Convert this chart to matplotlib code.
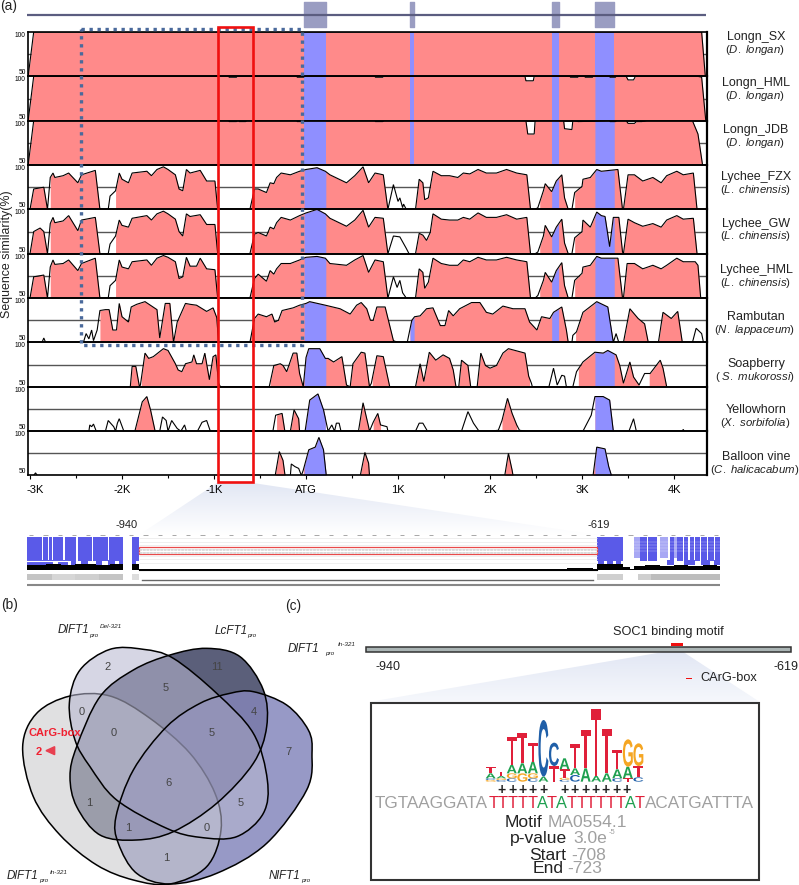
import numpy as np
import matplotlib
matplotlib.use("Agg")
import matplotlib.pyplot as plt
from matplotlib.patches import PathPatch, Polygon, Rectangle
from matplotlib.path import Path
from matplotlib.textpath import TextPath
from matplotlib.font_manager import FontProperties
from matplotlib.transforms import Affine2D, ScaledTranslation

plt.rcParams['font.family'] = ['Liberation Sans', 'DejaVu Sans']
plt.rcParams['mathtext.fontset'] = 'custom'
plt.rcParams['mathtext.it'] = 'Liberation Sans:italic'
plt.rcParams['mathtext.rm'] = 'Liberation Sans'

# ---- panel (a) data: (position in bp from ATG, similarity %) ----
track_names = ['Longn_SX', 'Longn_HML', 'Longn_JDB', 'Lychee_FZX', 'Lychee_GW', 'Lychee_HML',
               'Rambutan', 'Soapberry', 'Yellowhorn', 'Balloon vine']
track_species = ['D. longan', 'D. longan', 'D. longan', 'L. chinensis', 'L. chinensis', 'L. chinensis',
                 'N. lappaceum', ' S. mukorossi', 'X. sorbifolia', 'C. halicacabum']
exons = [(-20, 215), (1130, 1175), (2670, 2745), (3140, 3350)]
x_ticks = [-3000, -2000, -1000, 0, 1000, 2000, 3000, 4000]
x_tick_labels = ['-3K', '-2K', '-1K', 'ATG', '1K', '2K', '3K', '4K']

longan_sx = [(-3020, 50), (-2960, 100), (4300, 100), (4340, 50)]
longan_hml = [(-3020, 50), (-2960, 100), (-840, 100), (-835, 99), (-755, 99), (-750, 100), (-100, 100), (-95, 99),
              (-25, 99), (-20, 100), (750, 100), (755, 99), (835, 99), (840, 100), (2380, 100), (2390, 95), (2470, 95),
              (2480, 100), (2870, 100), (2875, 99), (2955, 99), (2960, 100), (3030, 100), (3035, 99), (3115, 99),
              (3120, 100), (3300, 100), (3305, 99), (3365, 99), (3370, 100), (3480, 100), (3500, 96), (3560, 96),
              (3580, 100), (4260, 100), (4300, 99), (4345, 50)]
longan_jdb = [(-3020, 50), (-2960, 100), (-840, 100), (-835, 99), (-755, 99), (-750, 100), (-730, 100), (-725, 99),
              (-655, 99), (-650, 100), (-100, 100), (-95, 99), (-25, 99), (-20, 100), (750, 100), (755, 99), (835, 99),
              (840, 100), (2390, 100), (2410, 85), (2480, 85), (2490, 100), (2800, 100), (2810, 91), (2890, 90),
              (2900, 100), (2960, 99), (3300, 100), (3305, 99), (3365, 99), (3370, 100), (3480, 100), (3500, 97),
              (3570, 97), (3590, 99), (3650, 99), (3700, 100), (4200, 100), (4260, 85), (4310, 50)]
lychee_fzx = [(-3000, 50), (-2960, 73), (-2850, 75), (-2810, 50), (-2780, 86), (-2750, 91), (-2730, 86), (-2640, 88),
              (-2580, 91), (-2480, 80), (-2440, 89), (-2290, 94), (-2240, 50), (-2150, 50), (-2130, 65), (-2070, 71),
              (-2030, 91), (-2000, 84), (-1930, 80), (-1890, 91), (-1730, 93), (-1680, 88), (-1620, 95), (-1550, 98),
              (-1500, 95), (-1420, 89), (-1380, 73), (-1340, 71), (-1300, 95), (-1260, 91), (-1150, 94), (-1080, 82),
              (-990, 82), (-960, 50), (-610, 50), (-560, 73), (-520, 73), (-430, 69), (-390, 80), (-350, 79), (-320, 86),
              (-270, 91), (-170, 89), (-70, 93), (0, 95), (120, 97), (210, 93), (260, 89), (440, 80), (530, 88),
              (620, 98), (680, 80), (750, 91), (840, 89), (890, 50), (950, 78), (1000, 59), (1020, 63), (1050, 52),
              (1060, 56), (1090, 50), (1190, 50), (1230, 84), (1270, 80), (1290, 61), (1330, 63), (1380, 93), (1470, 88),
              (1560, 88), (1650, 86), (1710, 91), (1780, 90), (1870, 95), (1960, 91), (2070, 91), (2180, 95), (2290, 91),
              (2400, 89), (2440, 50), (2490, 50), (2520, 52), (2580, 71), (2600, 79), (2670, 70), (2720, 82), (2780, 89),
              (2810, 63), (2850, 50), (2890, 50), (2920, 69), (3000, 76), (3010, 84), (3090, 86), (3160, 95), (3210, 93),
              (3390, 95), (3440, 50), (3450, 50), (3500, 89), (3570, 89), (3660, 82), (3770, 86), (3860, 80), (3920, 88),
              (4030, 93), (4100, 89), (4210, 91), (4250, 50)]
lychee_gw = [(-3000, 50), (-2960, 75), (-2890, 79), (-2850, 75), (-2810, 50), (-2780, 84), (-2750, 91), (-2730, 85),
             (-2640, 87), (-2580, 93), (-2480, 76), (-2440, 88), (-2290, 91), (-2240, 50), (-2150, 50), (-2130, 61),
             (-2070, 70), (-2030, 88), (-2000, 82), (-1930, 80), (-1890, 90), (-1730, 93), (-1680, 88), (-1620, 95),
             (-1550, 98), (-1500, 95), (-1420, 89), (-1380, 75), (-1340, 70), (-1300, 95), (-1260, 92), (-1150, 94),
             (-1080, 83), (-990, 83), (-960, 50), (-610, 50), (-560, 72), (-520, 74), (-430, 70), (-390, 80), (-350, 78),
             (-320, 85), (-270, 91), (-170, 88), (-70, 93), (0, 96), (120, 100), (210, 95), (260, 90), (440, 81),
             (530, 88), (620, 99), (680, 80), (750, 91), (840, 90), (890, 50), (950, 70), (1020, 69), (1090, 56),
             (1120, 50), (1190, 50), (1230, 73), (1270, 71), (1310, 65), (1350, 74), (1380, 95), (1470, 89), (1560, 88),
             (1650, 88), (1710, 91), (1780, 89), (1870, 96), (1960, 91), (2070, 91), (2180, 94), (2290, 89), (2400, 91),
             (2440, 50), (2490, 50), (2520, 52), (2580, 70), (2600, 82), (2670, 69), (2720, 80), (2780, 89), (2810, 62),
             (2850, 50), (2890, 50), (2920, 68), (3000, 75), (3010, 88), (3090, 80), (3160, 97), (3210, 93), (3250, 92),
             (3300, 58), (3340, 91), (3400, 91), (3440, 52), (3450, 50), (3500, 89), (3570, 85), (3660, 81), (3770, 84),
             (3860, 80), (3920, 88), (4030, 93), (4100, 89), (4210, 90), (4250, 50)]
lychee_hml = [(-3000, 50), (-2960, 74), (-2850, 76), (-2810, 50), (-2780, 85), (-2750, 93), (-2730, 88), (-2640, 89),
              (-2580, 93), (-2480, 81), (-2440, 89), (-2290, 95), (-2240, 50), (-2150, 50), (-2130, 64), (-2070, 70),
              (-2030, 93), (-2000, 85), (-1930, 83), (-1890, 91), (-1730, 93), (-1680, 87), (-1620, 95), (-1550, 98),
              (-1500, 96), (-1420, 91), (-1380, 72), (-1340, 74), (-1300, 96), (-1260, 86), (-1190, 86), (-1150, 95),
              (-1080, 83), (-990, 82), (-960, 50), (-610, 50), (-560, 72), (-520, 77), (-430, 69), (-390, 81), (-350, 77),
              (-320, 83), (-270, 89), (-170, 89), (-70, 93), (0, 96), (120, 97), (210, 95), (260, 89), (440, 87),
              (530, 93), (620, 98), (680, 79), (750, 93), (840, 91), (890, 50), (950, 74), (990, 62), (1020, 70),
              (1050, 56), (1090, 50), (1190, 50), (1230, 83), (1270, 79), (1290, 61), (1330, 68), (1380, 95), (1470, 89),
              (1560, 87), (1650, 87), (1710, 93), (1780, 91), (1870, 96), (1960, 93), (2070, 93), (2180, 96), (2290, 93),
              (2400, 91), (2440, 50), (2490, 50), (2520, 53), (2580, 70), (2600, 79), (2670, 68), (2720, 81), (2780, 90),
              (2810, 64), (2850, 50), (2890, 50), (2920, 70), (3000, 78), (3010, 85), (3090, 87), (3160, 97), (3210, 95),
              (3390, 95), (3440, 50), (3450, 50), (3490, 89), (3570, 89), (3660, 83), (3770, 87), (3860, 83), (3920, 87),
              (4030, 95), (4100, 91), (4230, 91), (4260, 87), (4290, 50)]
rambutan = [(-2870, 50), (-2850, 55), (-2830, 50), (-2420, 50), (-2390, 60), (-2360, 54), (-2330, 64), (-2310, 52),
            (-2270, 64), (-2240, 86), (-2180, 87), (-2140, 87), (-2100, 64), (-2060, 64), (-2030, 94), (-2000, 79),
            (-1930, 73), (-1900, 90), (-1840, 93), (-1750, 96), (-1620, 87), (-1590, 55), (-1530, 94), (-1480, 94),
            (-1440, 50), (-1400, 73), (-1310, 94), (-1260, 93), (-1190, 92), (-1080, 85), (-1010, 89), (-970, 78),
            (-950, 50), (-610, 50), (-560, 77), (-520, 82), (-430, 79), (-370, 82), (-340, 73), (-300, 75), (-260, 86),
            (-140, 89), (-70, 92), (0, 94), (40, 96), (210, 92), (370, 88), (480, 82), (550, 92), (600, 95), (660, 88),
            (700, 75), (730, 75), (770, 90), (860, 90), (950, 52), (1000, 50), (1100, 50), (1150, 75), (1180, 79),
            (1240, 80), (1310, 88), (1380, 89), (1460, 69), (1510, 69), (1550, 86), (1600, 80), (1670, 88), (1800, 95),
            (1890, 95), (1960, 84), (2030, 82), (2140, 91), (2250, 88), (2380, 88), (2430, 73), (2510, 64), (2560, 79),
            (2650, 77), (2690, 84), (2780, 90), (2830, 64), (2850, 50), (2890, 50), (2900, 58), (2940, 62), (3010, 84),
            (3160, 96), (3280, 90), (3340, 50), (3370, 60), (3400, 50), (3450, 50), (3520, 88), (3610, 77), (3680, 71),
            (3720, 50), (3830, 50), (3880, 84), (3970, 77), (4040, 85), (4090, 50), (4200, 50), (4240, 66), (4300, 60),
            (4320, 50)]
soapberry = [(-1910, 50), (-1890, 73), (-1850, 73), (-1810, 50), (-1800, 52), (-1750, 88), (-1710, 82), (-1660, 84),
             (-1550, 93), (-1500, 91), (-1420, 76), (-1390, 69), (-1350, 67), (-1310, 76), (-1240, 78), (-1220, 86),
             (-1190, 76), (-1130, 76), (-1100, 88), (-1050, 58), (-1010, 84), (-980, 86), (-950, 54), (-930, 50),
             (-400, 50), (-350, 74), (-280, 76), (-250, 74), (-210, 67), (-140, 88), (-100, 88), (-70, 65), (-30, 50),
             (0, 83), (30, 93), (150, 93), (210, 82), (240, 82), (300, 78), (390, 84), (440, 52), (480, 50), (510, 76),
             (600, 89), (640, 88), (690, 50), (710, 54), (770, 85), (840, 84), (910, 50), (1190, 50), (1240, 76),
             (1280, 56), (1340, 89), (1410, 80), (1490, 86), (1560, 82), (1600, 69), (1630, 50), (1660, 50), (1690, 80),
             (1760, 74), (1790, 50), (1860, 50), (1900, 88), (1950, 74), (2000, 71), (2070, 74), (2140, 88), (2200, 93),
             (2380, 88), (2420, 62), (2450, 54), (2460, 50), (2640, 50), (2690, 71), (2730, 52), (2780, 63), (2810, 62),
             (2830, 50), (2900, 50), (2940, 67), (3010, 78), (3140, 89), (3230, 88), (3280, 91), (3370, 86), (3410, 74),
             (3450, 54), (3520, 78), (3560, 61), (3620, 52), (3680, 65), (3740, 65), (3850, 80), (3880, 71), (3920, 50)]
yellowhorn = [(-2360, 50), (-2350, 57), (-2330, 55), (-2310, 58), (-2280, 50), (-2180, 50), (-2150, 62), (-2090, 55),
              (-2070, 50), (-2050, 59), (-2030, 64), (-1980, 50), (-1860, 50), (-1780, 83), (-1730, 89), (-1690, 74),
              (-1640, 50), (-1590, 50), (-1560, 66), (-1520, 62), (-1500, 50), (-1460, 62), (-1400, 53), (-1360, 50),
              (-1320, 57), (-1300, 50), (-1180, 50), (-1130, 60), (-1080, 62), (-1040, 50), (-360, 50), (-330, 68),
              (-260, 70), (-230, 50), (-170, 50), (-130, 74), (-80, 64), (-70, 50), (-10, 50), (40, 85), (130, 92),
              (190, 74), (240, 50), (280, 57), (310, 50), (330, 59), (360, 59), (380, 50), (570, 50), (620, 82),
              (680, 55), (690, 50), (730, 60), (780, 70), (810, 57), (880, 55), (890, 50), (1190, 50), (1230, 59),
              (1270, 59), (1320, 50), (1690, 50), (1760, 72), (1820, 59), (1880, 50), (2000, 50), (2090, 51), (2130, 62),
              (2190, 87), (2240, 70), (2290, 57), (2320, 51), (2390, 50), (3010, 50), (3100, 68), (3140, 89), (3230, 89),
              (3300, 85), (3340, 50), (3510, 50), (3560, 64), (3590, 50), (4090, 50), (4100, 52), (4110, 50)]
balloon = [(-2960, 50), (-2940, 53), (-2920, 50), (-335, 50), (-290, 77), (-250, 67), (-228, 50), (-170, 50), (-160, 63),
           (-120, 60), (-80, 58), (-50, 50), (-30, 56), (30, 79), (100, 82), (140, 93), (190, 79), (220, 50), (590, 50),
           (640, 76), (680, 64), (690, 50), (2160, 50), (2200, 75), (2240, 56), (2250, 50), (3120, 50), (3160, 82),
           (3250, 80), (3290, 60), (3320, 50)]
track_traces = [longan_sx, longan_hml, longan_jdb, lychee_fzx, lychee_gw, lychee_hml, rambutan, soapberry, yellowhorn, balloon]

# conserved regions that get filled
fill_sx = [(-3020, 4340)]
fill_fzx = [(-3000, -2810), (-2780, -2240), (-2070, -960), (-610, 890), (1190, 2440), (2540, 2850), (2920, 3440), (3450, 4250)]
fill_gw = [(-3000, -2810), (-2780, -2240), (-2070, -960), (-610, 890), (1190, 2440), (2540, 2850), (2920, 3440), (3450, 4250)]
fill_hml = [(-3000, -2810), (-2780, -2240), (-2070, -960), (-610, 890), (1190, 2440), (2540, 2850), (2920, 3440), (3450, 4290)]
fill_rambutan = [(-2240, -950), (-610, 950), (1130, 2850), (2930, 3340), (3450, 3720), (3830, 4090)]
fill_soapberry = [(-1910, -1810), (-1790, -930), (-390, -30), (-30, 440), (480, 690), (720, 910), (1190, 1630), (1660, 1790),
                  (1860, 2430), (2960, 3620), (3730, 3920)]
fill_yellowhorn = [(-1860, -1640), (-320, -230), (-170, -70), (-10, 210), (580, 680), (730, 810), (2130, 2290), (3140, 3340)]
fill_balloon = [(-335, -228), (-30, 220), (590, 690), (2160, 2250), (3120, 3320)]
track_fills = [fill_sx, fill_sx, fill_sx, fill_fzx, fill_gw, fill_hml, fill_rambutan, fill_soapberry, fill_yellowhorn, fill_balloon]

# ---- alignment strip under panel (a), bp ----
strip_blue = [(-1019, -1008), (-1007, -1004), (-1003, -1001), (-1000, -993), (-992, -984), (-983, -973), (-972, -962),
              (-961, -951), (-945, -940), (-619, -601), (-589, -584), (-583, -577), (-568, -565), (-563, -559),
              (-558, -555), (-554, -551), (-550, -547), (-546, -542), (-541, -537), (-536, -533)]
strip_pale = [(-593, -589), (-575, -569), (-565, -563)]
strip_low = [(-1019, -1000), (-997, -990), (-988, -984), (-981, -976), (-970, -966), (-962, -957), (-954, -951),
             (-945, -942), (-618, -614), (-612, -608), (-606, -602), (-570, -565), (-558, -550), (-546, -540), (-537, -533)]
cover_x = [-1019, -1005, -995, -985, -970, -960, -951, -945, -940, -640, -622, -619, -601, -596, -593, -585, -575, -565,
           -555, -545, -535, -533]
cover_h = [5, 6, 5, 6, 5, 6, 0, 6, 1, 2, 1, 6, 3, 1, 4, 5, 4, 5, 4, 5, 4, 4]
band_x = [-1019, -1001, -985, -968, -951, -945, -940, -619, -601, -596, -590, -581, -533]
band_gray = ['#c4c4c4', '#d6d6d6', '#cfcfcf', '#c4c4c4', '#ffffff', '#dddddd', '#ffffff', '#cfcfcf', '#ffffff', '#ffffff', '#cfcfcf', '#bdbdbd']

# ---- panel (b) counts ----
venn_counts = [2, 11, 5, 0, 4, 0, 5, 7, 6, 1, 5, 1, 0, 1]
venn_count_xy = [(323, 230), (650, 230), (498, 295), (245, 365), (760, 365), (342, 430), (635, 430), (865, 485),
                 (505, 578), (267, 638), (722, 638), (385, 713), (620, 713), (500, 805)]

# ---- panel (c) motif ----
seq_left = 'TGTAAGGATA'
seq_mid = 'TTTTTATATTTTTTAT'
seq_right = 'ACATGATTTA'
logo_cols = [[('G', .05), ('C', .05), ('A', .15), ('T', .18)],
             [('C', .05), ('G', .05), ('A', .07), ('T', .13)],
             [('C', .1), ('G', .15), ('A', .25), ('T', .85)],
             [('G', .25), ('A', .3), ('T', .92)],
             [('C', .1), ('G', .15), ('A', .35), ('T', .57)],
             [('A', .15), ('C', 1.7)],
             [('T', .47), ('C', .7)],
             [('C', .06), ('G', .06), ('T', .25), ('A', .33)],
             [('C', .2), ('A', .2), ('T', .73)],
             [('A', .4), ('T', 1.15)],
             [('A', .17), ('T', 2.0)],
             [('A', .25), ('T', 1.32)],
             [('C', .1), ('A', .27), ('T', .58)],
             [('T', .1), ('A', .35), ('G', .82)],
             [('C', .13), ('T', .34), ('G', .68)]]
logo_colors = {'A': '#1fa050', 'C': '#1f5fa8', 'G': '#f5a623', 'T': '#e0203a'}

W, H = 799, 885
PINK = '#ff8a8a'
BLUE = '#8f8fff'
fig = plt.figure(figsize=(W / 100, H / 100), dpi=100)


def px_axes(x0, y0, x1, y1, **kw):
    return fig.add_axes([x0 / W, 1 - y1 / H, (x1 - x0) / W, (y1 - y0) / H], **kw)


# wedge behind the tick labels
grad = np.linspace(0, 1, 64).reshape(-1, 1)
under = px_axes(0, 0, W, H)
under.set_zorder(-1)
under.axis('off')
wedge_cmap = matplotlib.colors.LinearSegmentedColormap.from_list('w', ['#e2e7f4', '#ffffff'])
im = under.imshow(grad, extent=(139, 597, 535, 483), cmap=wedge_cmap, aspect='auto')
im.set_clip_path(Polygon([(217, 483), (253, 483), (597, 535), (139, 535)], transform=under.transData))
under.set_xlim(0, W)
under.set_ylim(H, 0)

# gene model on top
x_lim = (-3025, 4355)
ax_gene = px_axes(27.7, 0, 706.7, 30)
ax_gene.set_xlim(x_lim)
ax_gene.set_ylim(30, 0)
ax_gene.axis('off')
ax_gene.plot([-3030, 4345], [15, 15], color='#5b5d80', lw=1.6, solid_capstyle='butt', clip_on=False)
ax_gene.broken_barh([(a, b - a) for a, b in exons], (2, 25), color='#9a9dc2')

# similarity tracks
gs = fig.add_gridspec(10, 1, left=27.7 / W, right=706.7 / W, top=1 - 32 / H, bottom=1 - 475.5 / H, hspace=0)
axes = []
for i, name in enumerate(track_names):
    ax = fig.add_subplot(gs[i])
    axes.append(ax)
    xs, ys = np.array(track_traces[i], dtype=float).T
    ax.axhline(75, color='#555555', lw=1.0, zorder=0)
    for a, b in track_fills[i]:
        gx = np.unique(np.r_[a, b, xs[(xs > a) & (xs < b)]])
        gy = np.interp(gx, xs, ys)
        ax.fill_between(gx, 50, gy, color=PINK, lw=0, zorder=1)
        for ea, eb in exons:
            la, lb = max(a, ea), min(b, eb)
            if lb > la:
                ex = np.unique(np.r_[la, lb, gx[(gx > la) & (gx < lb)]])
                ax.fill_between(ex, 50, np.interp(ex, gx, gy), color=BLUE, lw=0, zorder=2)
    ax.plot(xs, ys, color='black', lw=0.8, zorder=3, solid_joinstyle='miter')
    ax.set_xlim(x_lim)
    ax.set_ylim(50, 100)
    ax.set_yticks([50, 100])
    ax.set_yticklabels(['50', '100'], fontsize=4.8)
    ax.get_yticklabels()[0].set_va('bottom')
    ax.get_yticklabels()[1].set_va('top')
    ax.tick_params(axis='y', length=0, pad=1.5)
    ax.patch.set_alpha(0)
    for s in ax.spines.values():
        s.set_linewidth(1.2)
    ax.spines['right'].set_linewidth(1.6)
    ax.set_xticks(x_ticks)
    ax.set_xticks([-2500, -1500, -500, 500, 1500, 2500, 3500], minor=True)
    if i < 9:
        ax.tick_params(axis='x', which='both', length=0, labelbottom=False)
    else:
        ax.set_xticklabels(x_tick_labels, fontsize=8)
        ax.tick_params(axis='x', which='major', length=3, width=0.8, pad=4)
        ax.tick_params(axis='x', which='minor', length=2, width=0.8)
        lab0 = ax.get_xticklabels()[0]
        lab0.set_transform(lab0.get_transform() + ScaledTranslation(5 / 100, 0, fig.dpi_scale_trans))
    fig.text(756 / W, 1 - (36.7 + 46.7 * i) / H, name, ha='center', va='center', fontsize=9, color='#222222')
    fig.text(755 / W, 1 - (49.6 + 46.7 * i) / H, r'(' + r'$\mathit{' + track_species[i].replace(' ', r'\ ') + r'}$' + ')',
             ha='center', va='center', fontsize=8.2, color='#222222')

fig.text(7 / W, 1 - 254 / H, 'Sequence similarity(%)', rotation=90, ha='center', va='center', fontsize=8.9, color='#222222')

# alignment strip (rows counted from y=530 downward)
ax_s = px_axes(26.5, 530, 720, 590)
ax_s.set_xlim(-940 - (139 - 26.5) * 0.7009, -940 + (720 - 139) * 0.7009)
ax_s.set_ylim(60, 0)
ax_s.axis('off')
for y in np.arange(8, 36, 3.5):
    ax_s.hlines(y, -940, -619, color='#ececec', lw=0.6)
ax_s.hlines(np.arange(18.5, 24, 1.6), -940, -619, color='#d2d2d2', lw=0.5, linestyles=(0, (4, 1)))
ruler = np.arange(-1017, -533, 10)
ax_s.hlines(np.full(ruler.shape, 5.0), ruler, ruler + 3, color='#999999', lw=0.6)
ax_s.broken_barh([(a, b - a) for a, b in strip_blue], (7, 24), color='#5a5ae8', lw=0)
ax_s.broken_barh([(a, b - a) for a, b in strip_pale], (7, 21), color='#a8a8f4', lw=0)
ax_s.hlines([12, 15, 18, 21], -593, -533, color='#ffffff', lw=0.3, alpha=0.6)
ax_s.hlines(31, -1019, -990, color='white', lw=0.8)
ax_s.broken_barh([(a, b - a) for a, b in strip_low], (30, 5), color='#5a5ae8', lw=0)
ax_s.fill_between(cover_x, 40.5 - np.array(cover_h), 40.5, step='post', color='black', lw=0)
ax_s.plot([-940, -619], [40.2, 40.2], color='black', lw=0.8)
for k, c in enumerate(band_gray):
    ax_s.add_patch(Rectangle((band_x[k], 44), band_x[k + 1] - band_x[k], 6, color=c, lw=0))
ax_s.plot([-938, -622], [49.5, 49.5], color='#666666', lw=1.0)
ax_s.plot([-1019, -533], [55, 55], color='#888888', lw=1.5)
ax_s.add_patch(Rectangle((-940, 17), 321, 7, fill=False, ec='#e84a4a', lw=0.9))

# canvas in pixels for highlight boxes and small labels
canvas = px_axes(0, 0, W, H)
canvas.set_zorder(5)
canvas.patch.set_alpha(0)
canvas.axis('off')
canvas.set_xlim(0, W)
canvas.set_ylim(H, 0)
canvas.add_patch(Rectangle((81, 29.3), 221, 315.7, fill=False, ec='#4a6a9c', lw=2.4, linestyle=(0, (1, 1.4))))
canvas.add_patch(Rectangle((217.5, 27), 35.5, 455, fill=False, ec='#f01010', lw=1.9))
canvas.text(0, 6, '(a)', fontsize=9.8, va='center', color='#222222')
canvas.text(1, 605.5, '(b)', fontsize=9.8, va='center', color='#222222')
canvas.text(285, 606, '(c)', fontsize=9.8, va='center', color='#222222')
canvas.text(127, 525, '-940', fontsize=8, ha='center', va='center', color='#222222')
canvas.text(599, 525, '-619', fontsize=8, ha='center', va='center', color='#222222')


def smooth_closed(points):
    # closed Catmull-Rom through the outline points, as cubic Bezier pieces
    p = np.array(points, dtype=float)
    n = len(p)
    verts = [p[0]]
    codes = [Path.MOVETO]
    for j in range(n):
        p0, p1, p2, p3 = p[(j - 1) % n], p[j], p[(j + 1) % n], p[(j + 2) % n]
        verts += [p1 + (p2 - p0) / 6, p2 - (p3 - p1) / 6, p2]
        codes += [Path.CURVE4] * 3
    return Path(verts, codes)


# panel (b): outlines in a 3x coordinate system
ax_v = px_axes(0, 590, 330, 885)
ax_v.set_xlim(0, 990)
ax_v.set_ylim(885, 0)
ax_v.axis('off')
shape_in = smooth_closed([(210, 318), (330, 318), (450, 385), (570, 490), (645, 610), (663, 720), (620, 830), (510, 882),
                          (400, 870), (290, 825), (180, 735), (100, 620), (68, 470), (110, 370)])
shape_del = smooth_closed([(208, 340), (240, 240), (330, 178), (430, 178), (520, 205), (650, 310), (760, 430), (802, 570),
                           (790, 670), (710, 740), (600, 742), (500, 715), (350, 630), (270, 530), (225, 450)])
shape_lc = smooth_closed([(510, 195), (620, 175), (720, 200), (790, 300), (800, 410), (760, 520), (650, 640), (520, 725),
                          (410, 750), (300, 735), (230, 650), (210, 560), (230, 470), (300, 320), (400, 240)])
shape_nl = smooth_closed([(690, 310), (760, 305), (860, 345), (925, 420), (936, 490), (920, 600), (800, 760), (650, 850),
                          (510, 882), (410, 850), (355, 760), (348, 680), (400, 540), (500, 410), (600, 340)])
ax_v.add_patch(PathPatch(shape_lc, fc=(36 / 255, 41 / 255, 77 / 255, .75), ec='none', zorder=1))
ax_v.add_patch(PathPatch(shape_nl, fc=(130 / 255, 132 / 255, 187 / 255, .83), ec='none', zorder=2))
ax_v.add_patch(PathPatch(shape_in, fc=(202 / 255, 202 / 255, 205 / 255, .585), ec='black', lw=1.1, zorder=3))
ax_v.add_patch(PathPatch(shape_del, fc=(183 / 255, 183 / 255, 208 / 255, .567), ec='none', zorder=4))
# the shared middle is darker in the reference than plain layering gives
core = PathPatch(shape_lc, fc=(130 / 255, 130 / 255, 170 / 255, .4), ec='none', zorder=4.5)
ax_v.add_patch(core)
core.set_clip_path(shape_nl, ax_v.transData)
for sh in (shape_del, shape_lc, shape_nl):
    ax_v.add_patch(PathPatch(sh, fc='none', ec='black', lw=1.1, zorder=5))
for n_val, (vx, vy) in zip(venn_counts, venn_count_xy):
    ax_v.text(vx, vy, str(n_val), fontsize=8, ha='center', va='center', color='#444444', zorder=6)
ax_v.text(165, 430, 'CArG-box', fontsize=8, fontweight='bold', color='#f02030', ha='center', va='center', zorder=6)
ax_v.text(115, 485, '2', fontsize=8, fontweight='bold', color='#f02030', ha='center', va='center', zorder=6)
ax_v.add_patch(Polygon([(138, 482), (164, 470), (164, 494)], color='#e84050', zorder=6))
ital = dict(fontstyle='italic', color='#222222', va='center', zorder=6)
ax_v.text(172, 120, 'DlFT1', fontsize=8.4, **ital)
ax_v.text(268, 135, 'pro', fontsize=4.6, **ital)
ax_v.text(298, 110, 'Del-321', fontsize=4.6, **ital)
ax_v.text(645, 122, 'LcFT1', fontsize=8.4, **ital)
ax_v.text(742, 135, 'pro', fontsize=4.6, **ital)
ax_v.text(20, 858, 'DlFT1', fontsize=8.4, **ital)
ax_v.text(116, 872, 'pro', fontsize=4.6, **ital)
ax_v.text(148, 846, 'In-321', fontsize=4.6, **ital)
ax_v.text(805, 858, 'NlFT1', fontsize=8.4, **ital)
ax_v.text(902, 872, 'pro', fontsize=4.6, **ital)

# panel (c)
ax_c = px_axes(280, 590, 799, 885)
ax_c.set_xlim(0, 1557)
ax_c.set_ylim(885, 0)
ax_c.axis('off')
im2 = ax_c.imshow(grad, extent=(272, 1438, 340, 186), cmap=matplotlib.colors.LinearSegmentedColormap.from_list('w2', ['#e2e7f4', '#f6f8fc']),
                  aspect='auto', zorder=0)
im2.set_clip_path(Polygon([(1150, 186), (1210, 186), (1438, 335), (272, 335)], transform=ax_c.transData))
ax_c.set_xlim(0, 1557)
ax_c.set_ylim(885, 0)
ax_c.add_patch(Rectangle((258, 170), 1274, 15, fc='#aab4b4', ec='#333333', lw=1.1))
ax_c.add_patch(Rectangle((1172, 160), 38, 9, color='#f01010', lw=0))
ax_c.text(22, 177, 'DlFT1', fontsize=8.4, **ital)
ax_c.text(136, 190, 'pro', fontsize=4.6, **ital)
ax_c.text(172, 163, 'In-321', fontsize=4.6, **ital)
ax_c.text(1165, 125, 'SOC1 binding motif', fontsize=9.2, ha='center', va='center', color='#222222')
ax_c.text(325, 230, '-940', fontsize=9, ha='center', va='center', color='#222222')
ax_c.text(1517, 232, '-619', fontsize=9, ha='center', va='center', color='#222222')
ax_c.add_patch(Rectangle((1218, 263), 17, 5, color='#f01010', lw=0))
ax_c.text(1260, 265, 'CArG-box', fontsize=9.2, va='center', color='#222222')
ax_c.add_patch(Rectangle((272, 340), 1166, 530, fc='white', ec='#333333', lw=1.5, zorder=1))

# sequence logo, letters stretched to their height in bits
logo_font = FontProperties(family='Liberation Sans', weight='bold')
for c_i, col in enumerate(logo_cols):
    cx = 632 + 31.65 * c_i
    base = 575.0
    for letter, bits in col:
        tp = TextPath((0, 0), letter, size=10, prop=logo_font)
        bb = tp.get_extents()
        h_z = bits * 100
        aff = Affine2D().translate(-bb.x0, -bb.y0).scale(30 / bb.width, -h_z / bb.height).translate(cx - 15, base)
        ax_c.add_patch(PathPatch(tp.transformed(aff), fc=logo_colors[letter], lw=0, zorder=3))
        base -= h_z
for k in list(range(5)) + list(range(6, 13)):
    ax_c.text(665 + 31.3 * k, 600, '+', fontsize=10, fontweight='bold', ha='center', va='center', color='#222222', zorder=3)

seq_colors = {'T': '#e0203a', 'A': '#1fa050'}
ax_c.text(283, 640, seq_left, fontsize=12.3, ha='left', va='center', color='#a0a0a0', zorder=3)
for k, ch in enumerate(seq_mid):
    ax_c.text(640 + 29.3 * k, 640, ch, fontsize=11.8, ha='center', va='center', color=seq_colors[ch], zorder=3)
ax_c.text(1095, 640, seq_right, fontsize=12.3, ha='left', va='center', color='#a0a0a0', zorder=3)

for txt, tx, gtxt, gx, ty in [('Motif', 673, 'MA0554.1', 803, 697), ('p-value', 690, '3.0e', 880, 745),
                              ('Start', 748, '-708', 873, 795), ('End', 758, '-723', 862, 835)]:
    ax_c.text(tx, ty, txt, fontsize=12.6, va='center', color='#222222', zorder=3)
    ax_c.text(gx, ty, gtxt, fontsize=12.6, va='center', color='#a0a0a0', zorder=3)
ax_c.text(985, 727, '-5', fontsize=5.5, va='center', color='#a0a0a0', zorder=3)

fig.savefig('out.png', dpi=100)
